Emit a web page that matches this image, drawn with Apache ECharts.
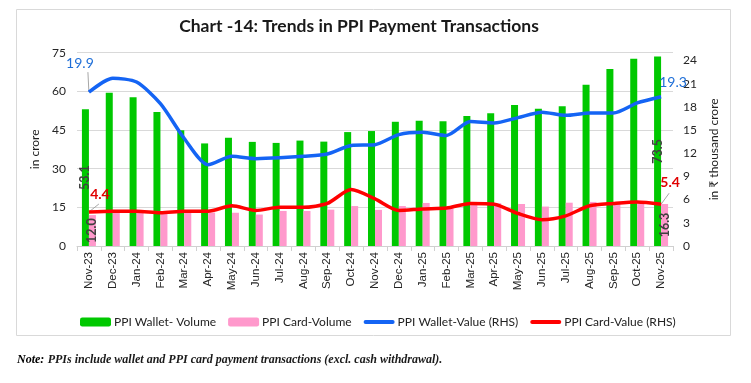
<!DOCTYPE html>
<html>
<head>
<meta charset="utf-8">
<script src="https://cdn.jsdelivr.net/npm/echarts@6/dist/echarts.min.js"></script>
<style>
html,body{margin:0;padding:0;background:#fff;}
#c{width:751px;height:383px;}
</style>
</head>
<body>
<div id="c"></div>
<script>
const categories = ['Nov-23','Dec-23','Jan-24','Feb-24','Mar-24','Apr-24','May-24','Jun-24','Jul-24','Aug-24','Sep-24','Oct-24','Nov-24','Dec-24','Jan-25','Feb-25','Mar-25','Apr-25','May-25','Jun-25','Jul-25','Aug-25','Sep-25','Oct-25','Nov-25'];
const walletVolume = [53.1,59.5,57.7,52.0,44.9,39.8,42.0,40.4,40.0,40.9,40.5,44.2,44.6,48.2,48.6,48.4,50.4,51.5,54.7,53.3,54.2,62.6,68.7,72.7,73.5];
const cardVolume = [12.0,12.9,12.9,12.4,12.9,13.0,12.9,12.2,13.6,13.6,14.1,15.5,14.0,15.5,16.7,15.3,17.1,16.6,16.3,15.3,16.8,17.1,16.3,16.6,16.3];
const walletValue = [19.9,21.7,21.2,18.4,13.9,10.5,11.6,11.3,11.4,11.6,11.9,13.0,13.1,14.4,14.7,14.3,16.1,15.9,16.6,17.3,16.9,17.2,17.2,18.5,19.3];
const cardValue = [4.4,4.5,4.5,4.3,4.5,4.5,5.2,4.6,5.0,5.0,5.5,7.3,6.1,4.6,4.8,4.9,5.5,5.4,4.2,3.4,3.9,5.2,5.5,5.7,5.4];
const leftTicks = {min:0, max:75, interval:15};
const rightTicks = {min:0, max:25, interval:3};

const FONT = 'Lato';
const last = categories.length - 1;

function endLabels(arr, extra) {
  return arr.map((v, i) => (i === 0 || i === last) ? Object.assign({value: v, label: {show: true}}, extra) : v);
}

const barLabel = {show: true, position: 'inside', rotate: 90, color: '#404040', fontSize: 12.5, fontWeight: 'bold', fontFamily: FONT,
  formatter: p => p.value.toFixed(1)};
const lineIcon = 'path://M2,0H30A2,2 0 0 1 30,4H2A2,2 0 0 1 2,0Z';

const baseGraphics = [
  {type: 'rect', shape: {x: 16.5, y: 9.5, width: 714, height: 326}, style: {fill: 'none', stroke: '#d9d9d9', lineWidth: 1}, silent: true, z: -1},
  {type: 'text', left: 17, top: 354, style: {
    text: '{b|Note:} {i|PPIs include wallet and PPI card payment transactions (excl. cash withdrawal).}',
    rich: {
      b: {fontFamily: 'Liberation Serif', fontStyle: 'italic', fontWeight: 'bold', fontSize: 12, fill: '#000'},
      i: {fontFamily: 'Liberation Serif', fontStyle: 'italic', fontWeight: 'bold', fontSize: 12, fill: '#1a1a1a'}
    }
  }}
];

const chart = echarts.init(document.getElementById('c'), null, {renderer: 'canvas'});
chart.setOption({
  animation: false,
  title: {
    text: 'Chart -14: Trends in PPI Payment Transactions',
    left: 354, textAlign: 'center', top: 12,
    textStyle: {fontFamily: FONT, fontSize: 17.5, fontWeight: 'bold', color: '#1a1a1a'}
  },
  graphic: baseGraphics,
  legend: {
    left: 75, top: 311,
    itemWidth: 31, itemHeight: 9, itemGap: 12,
    textStyle: {fontFamily: FONT, fontSize: 12, color: '#222', padding: [0, 0, 0, -2]},
    data: [
      {name: 'PPI Wallet- Volume'},
      {name: 'PPI Card-Volume'},
      {name: 'PPI Wallet-Value (RHS)', icon: lineIcon},
      {name: 'PPI Card-Value (RHS)', icon: lineIcon}
    ]
  },
  grid: {left: 77, right: 78, top: 52.7, bottom: 137},
  xAxis: {
    type: 'category', data: categories, boundaryGap: true,
    axisLine: {lineStyle: {color: '#d0d0d0'}},
    axisTick: {show: true, length: 5, lineStyle: {color: '#d0d0d0'}},
    axisLabel: {rotate: 90, interval: 0, fontFamily: 'Liberation Sans', fontSize: 11.5, color: '#262626', margin: 6}
  },
  yAxis: [
    {
      type: 'value', min: leftTicks.min, max: leftTicks.max, interval: leftTicks.interval,
      name: 'in crore', nameLocation: 'middle', nameGap: 28, nameRotate: 90,
      nameTextStyle: {fontFamily: FONT, fontSize: 12, color: '#222'},
      axisLine: {show: false}, axisTick: {show: false},
      axisLabel: {fontFamily: FONT, fontSize: 12, color: '#262626', margin: 11},
      splitLine: {lineStyle: {color: '#d9d9d9'}}
    },
    {
      type: 'value', min: rightTicks.min, max: rightTicks.max, interval: rightTicks.interval,
      name: 'in ₹ thousand crore', nameLocation: 'middle', nameGap: 30, nameRotate: 90,
      nameTextStyle: {fontFamily: FONT, fontSize: 12, color: '#222', verticalAlign: 'top'},
      axisLine: {show: false}, axisTick: {show: false},
      axisLabel: {fontFamily: FONT, fontSize: 12, color: '#262626', margin: 10, showMaxLabel: false},
      splitLine: {show: false}
    }
  ],
  series: [
    {
      name: 'PPI Wallet- Volume', type: 'bar', yAxisIndex: 0, barWidth: 7, barGap: '0%',
      itemStyle: {color: '#00c800'},
      data: endLabels(walletVolume, {label: barLabel})
    },
    {
      name: 'PPI Card-Volume', type: 'bar', yAxisIndex: 0, barWidth: 7, barGap: '0%',
      itemStyle: {color: '#ff99cc'},
      data: endLabels(cardVolume, {label: barLabel})
    },
    {
      name: 'PPI Wallet-Value (RHS)', type: 'line', yAxisIndex: 1, smooth: 0.25,
      symbol: 'none', lineStyle: {color: '#1464f4', width: 3.5}, itemStyle: {color: '#1464f4'},
      z: 5,
      label: {color: '#1f6fd8', fontFamily: FONT, fontSize: 14, position: 'top', formatter: p => p.value.toFixed(1)},
      labelLayout: p => p.dataIndex === 0 ? {dx: -9, dy: -17} : {dx: 12, dy: -2},
      data: endLabels(walletValue, {symbol: 'circle', symbolSize: 0.01})
    },
    {
      name: 'PPI Card-Value (RHS)', type: 'line', yAxisIndex: 1, smooth: 0.25,
      symbol: 'none', lineStyle: {color: '#ff0000', width: 3.5}, itemStyle: {color: '#ff0000'},
      z: 5,
      label: {color: '#e00000', fontFamily: FONT, fontSize: 14, fontWeight: 'bold', position: 'top', formatter: p => p.value.toFixed(1)},
      labelLayout: p => p.dataIndex === 0 ? {dx: 11, dy: -5} : {dx: 9, dy: -10},
      data: endLabels(cardValue, {symbol: 'circle', symbolSize: 0.01})
    }
  ]
});

// leader lines from the labelled line points (positions from the chart's own scales)
function leader(seriesIdx, dataIdx, vals, ddx, ddy) {
  const p = chart.convertToPixel({seriesIndex: seriesIdx}, [categories[dataIdx], vals[dataIdx]]);
  return {type: 'line', shape: {x1: p[0], y1: p[1], x2: p[0] + ddx, y2: p[1] + ddy},
    style: {stroke: '#a6a6a6', lineWidth: 1}, silent: true, z: 4};
}
chart.setOption({
  graphic: baseGraphics.concat([
    leader(2, 0, walletValue, -1, -20),
    leader(3, 0, cardValue, 10, -8),
    leader(3, last, cardValue, 8, -11)
  ])
}, {replaceMerge: ['graphic']});
</script>
</body>
</html>
